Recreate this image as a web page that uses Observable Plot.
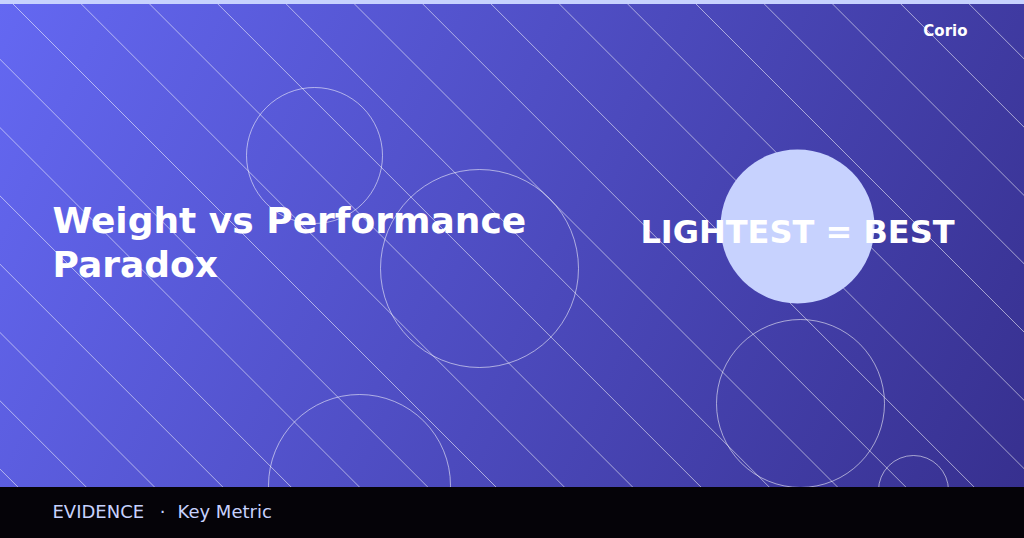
<!DOCTYPE html>
<html>
<head>
<meta charset="utf-8">
<script src="https://cdn.jsdelivr.net/npm/d3@7"></script>
<script src="https://cdn.jsdelivr.net/npm/@observablehq/plot@0.6"></script>
<style>
  html, body { margin: 0; padding: 0; background: #000; }
  svg { display: block; font-family: "DejaVu Sans", sans-serif; }
</style>
</head>
<body>
<div id="chart"></div>
<script>
// ---- data (canvas units: x 0..1024, y 0..538 downward) ----
const stripeOffsets = d3.range(-8, 16).map(k => 9 + k * 68.3);
const outlineCircles = [
  {cx: 314, cy: 155, r: 68},
  {cx: 479, cy: 268, r: 99},
  {cx: 359, cy: 485, r: 91},
  {cx: 800, cy: 403, r: 84},
  {cx: 913, cy: 490, r: 35}
];
const badge = [{cx: 797, cy: 226, r: 77}];
const titleLines = ["Weight vs Performance", "Paradox"];
const highlight = "LIGHTEST = BEST";
const brand = "Corio";
const footerLabel = "EVIDENCE";
const footerSep = "·";
const footerMetric = "Key Metric";

const W = 1024, H = 538, FOOT = 487, STRIP = 4;

const stripes = stripeOffsets.map(c => ({x1: c, y1: 0, x2: c + H, y2: H}));

const plot = Plot.plot({
  width: W, height: H,
  margin: 0,
  x: {domain: [0, W], range: [0, W], axis: null},
  y: {domain: [0, H], range: [0, H], axis: null},
  r: {type: "identity"},
  style: {fontFamily: "DejaVu Sans, sans-serif", background: "#000"},
  marks: [
    Plot.rect([{}], {x1: 0, x2: W, y1: 0, y2: FOOT, fill: "url(#bggrad)"}),
    Plot.link(stripes, {x1: "x1", y1: "y1", x2: "x2", y2: "y2", stroke: "#ffffff", strokeOpacity: 0.55, strokeWidth: 1, clip: "frame"}),
    Plot.dot(outlineCircles, {x: "cx", y: "cy", r: "r", stroke: "#ffffff", strokeOpacity: 0.55, strokeWidth: 1, fill: "none"}),
    Plot.dot(badge, {x: "cx", y: "cy", r: "r", fill: "#c7d2fe", stroke: "none"}),
    Plot.text([titleLines.join("\n")], {x: 52, y: 276, text: d => d, textAnchor: "start", lineAnchor: "bottom", lineHeight: 1.2, fontSize: 36, fontWeight: "bold", fill: "#ffffff"}),
    Plot.text([highlight], {x: 797, y: 242, text: d => d, textAnchor: "middle", lineAnchor: "bottom", fontSize: 32, fontWeight: "bold", fill: "#ffffff"}),
    Plot.text([brand], {x: 967, y: 35, text: d => d, textAnchor: "end", lineAnchor: "bottom", fontSize: 15, fontWeight: "bold", fill: "#ffffff"}),
    Plot.rect([{}], {x1: 0, x2: W, y1: FOOT, y2: H, fill: "#050308"}),
    Plot.rect([{}], {x1: 0, x2: W, y1: 0, y2: STRIP, fill: "#c7d2fe"}),
    Plot.text([footerLabel], {x: 52, y: 517, text: d => d, textAnchor: "start", lineAnchor: "bottom", fontSize: 18, fill: "#c7d2fe"}),
    Plot.text([footerSep], {x: 162, y: 517, text: d => d, textAnchor: "middle", lineAnchor: "bottom", fontSize: 18, fill: "#c7d2fe"}),
    Plot.text([footerMetric], {x: 177, y: 517, text: d => d, textAnchor: "start", lineAnchor: "bottom", fontSize: 18, fill: "#c7d2fe"})
  ]
});

// gradient definition
const ns = "http://www.w3.org/2000/svg";
const defs = document.createElementNS(ns, "defs");
defs.innerHTML = `<linearGradient id="bggrad" x1="0" y1="0" x2="1024" y2="487" gradientUnits="userSpaceOnUse">
  <stop offset="0" stop-color="#6468f2"/>
  <stop offset="1" stop-color="#37308f"/>
</linearGradient>`;
plot.insertBefore(defs, plot.firstChild);

document.getElementById("chart").appendChild(plot);
</script>
</body>
</html>
